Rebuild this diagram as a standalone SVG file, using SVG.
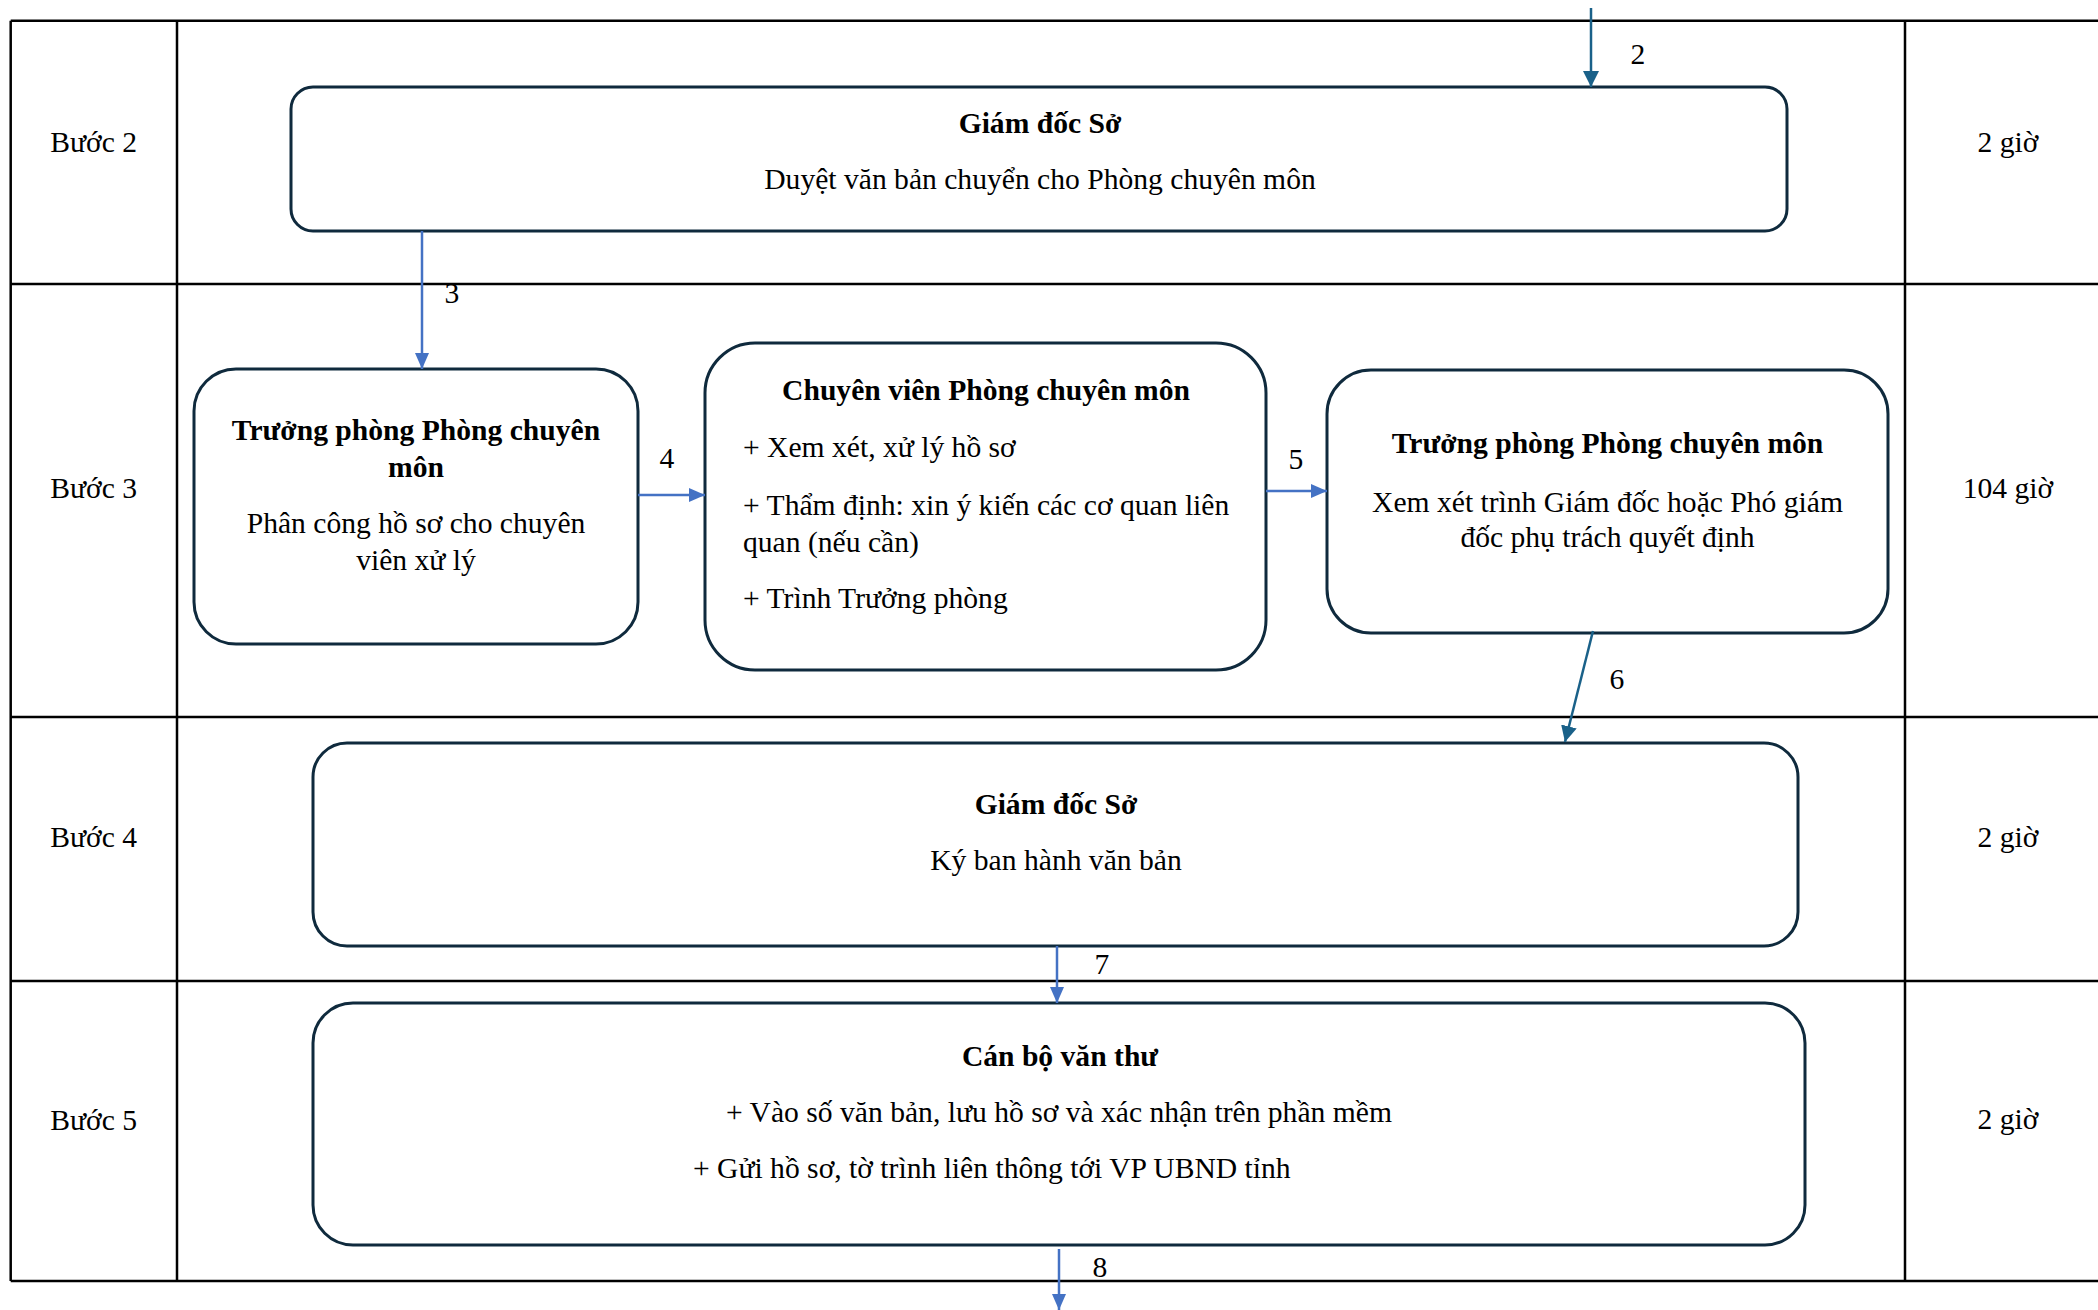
<svg xmlns="http://www.w3.org/2000/svg" width="2098" height="1310" viewBox="0 0 2098 1310">
<style>
text{font-family:"Liberation Serif","Times New Roman",serif;font-size:29.6px;fill:#000}
.b{font-weight:bold}
.c{text-anchor:middle}
.grid{stroke:#000;stroke-width:2.5;fill:none}
.box{fill:#fff;stroke:#0f2a3d;stroke-width:3}
.ab{stroke:#4472c4;stroke-width:2.5;fill:none}
.at{stroke:#1a6189;stroke-width:2.5;fill:none}
</style>
<defs>
<marker id="mb" markerUnits="userSpaceOnUse" markerWidth="18" markerHeight="16" refX="16" refY="7" orient="auto"><path d="M0,0 L16,7 L0,14 Z" fill="#4472c4"/></marker>
<marker id="mt" markerUnits="userSpaceOnUse" markerWidth="18" markerHeight="18" refX="16" refY="8" orient="auto"><path d="M0,0 L16,8 L0,16 Z" fill="#1a6189"/></marker>
</defs>
<rect width="2098" height="1310" fill="#fff"/>
<g id="table">
<path class="grid" d="M10.7,20.7 H2098 M10.7,284 H2098 M10.7,717 H2098 M10.7,981 H2098 M10.7,1281 H2098 M10.7,20.7 V1281 M177,20.7 V1281 M1905,20.7 V1281"/>
<text class="c" x="93.6" y="152">Bước 2</text>
<text class="c" x="93.6" y="498">Bước 3</text>
<text class="c" x="93.6" y="847">Bước 4</text>
<text class="c" x="93.6" y="1130">Bước 5</text>
<text class="c" x="2008" y="152">2 giờ</text>
<text class="c" x="2008" y="498">104 giờ</text>
<text class="c" x="2008" y="847">2 giờ</text>
<text class="c" x="2008" y="1129">2 giờ</text>
</g>
<g id="node-giamdoc-b2">
<rect class="box" x="291" y="87" width="1496" height="144" rx="22"/>
<text class="c b" x="1040" y="133">Giám đốc Sở</text>
<text class="c" x="1040" y="189">Duyệt văn bản chuyển cho Phòng chuyên môn</text>
</g>
<g id="node-truongphong-1">
<rect class="box" x="194" y="369" width="444" height="275" rx="42"/>
<text class="c b" x="416" y="440">Trưởng phòng Phòng chuyên</text>
<text class="c b" x="416" y="477">môn</text>
<text class="c" x="416" y="533">Phân công hồ sơ cho chuyên</text>
<text class="c" x="416" y="570">viên xử lý</text>
</g>
<g id="node-chuyenvien">
<rect class="box" x="705" y="343" width="561" height="327" rx="50"/>
<text class="c b" x="986" y="400">Chuyên viên Phòng chuyên môn</text>
<text x="743" y="457">+ Xem xét, xử lý hồ sơ</text>
<text x="743" y="515">+ Thẩm định: xin ý kiến các cơ quan liên</text>
<text x="743" y="552">quan (nếu cần)</text>
<text x="743" y="608">+ Trình Trưởng phòng</text>
</g>
<g id="node-truongphong-2">
<rect class="box" x="1327" y="370" width="561" height="263" rx="44"/>
<text class="c b" x="1607.5" y="453">Trưởng phòng Phòng chuyên môn</text>
<text class="c" x="1607.5" y="512">Xem xét trình Giám đốc hoặc Phó giám</text>
<text class="c" x="1607.5" y="547">đốc phụ trách quyết định</text>
</g>
<g id="node-giamdoc-b4">
<rect class="box" x="313" y="743" width="1485" height="203" rx="34"/>
<text class="c b" x="1056" y="814">Giám đốc Sở</text>
<text class="c" x="1056" y="870">Ký ban hành văn bản</text>
</g>
<g id="node-vanthu">
<rect class="box" x="313" y="1003" width="1492" height="242" rx="40"/>
<text class="c b" x="1060" y="1066">Cán bộ văn thư</text>
<text class="c" x="1059" y="1122">+ Vào số văn bản, lưu hồ sơ và xác nhận trên phần mềm</text>
<text x="693" y="1178">+ Gửi hồ sơ, tờ trình liên thông tới VP UBND tỉnh</text>
</g>
<g id="connectors">
<line class="at" x1="1591" y1="8" x2="1591" y2="87" marker-end="url(#mt)"/>
<text class="c" x="1638" y="64">2</text>
<line class="ab" x1="422" y1="231" x2="422" y2="369" marker-end="url(#mb)"/>
<text class="c" x="452" y="303">3</text>
<line class="ab" x1="638" y1="495" x2="705" y2="495" stroke-width="3" marker-end="url(#mb)"/>
<text class="c" x="667" y="468">4</text>
<line class="ab" x1="1266" y1="491" x2="1327" y2="491" stroke-width="3" marker-end="url(#mb)"/>
<text class="c" x="1296" y="469">5</text>
<line class="at" x1="1593" y1="631" x2="1565" y2="742" marker-end="url(#mt)"/>
<text class="c" x="1617" y="689">6</text>
<line class="ab" x1="1057" y1="946" x2="1057" y2="1003" marker-end="url(#mb)"/>
<text class="c" x="1102" y="974">7</text>
<line class="ab" x1="1059" y1="1249" x2="1059" y2="1310" marker-end="url(#mb)"/>
<text class="c" x="1100" y="1277">8</text>
</g>
</svg>
